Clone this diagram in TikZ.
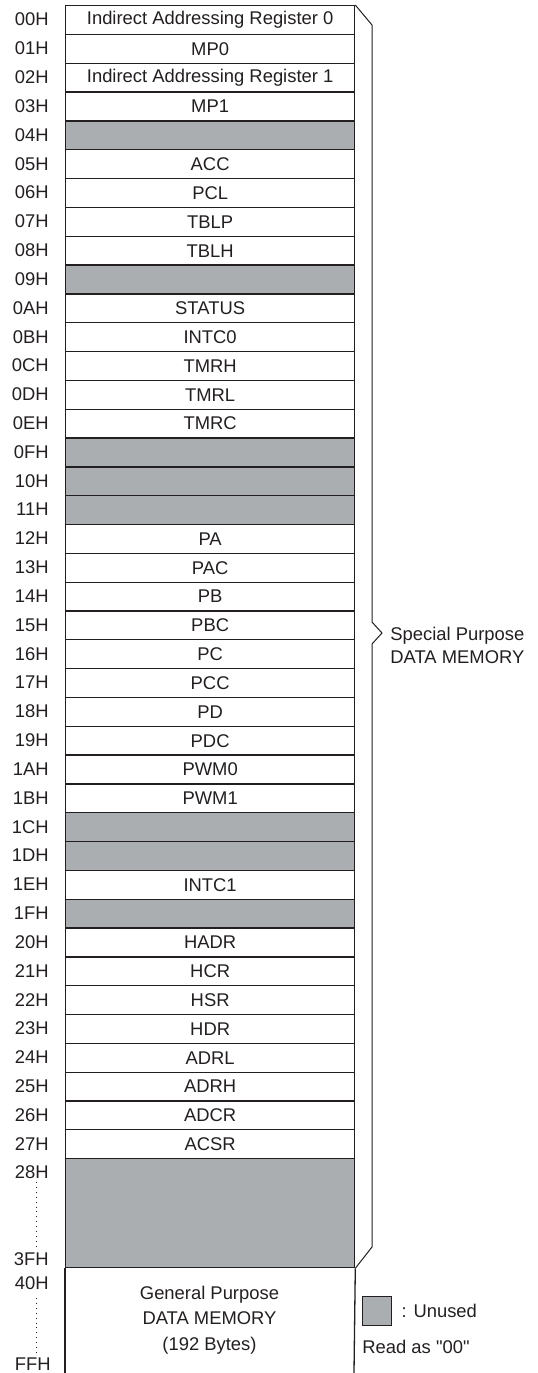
\documentclass[tikz,border=0pt]{standalone}
\usepackage{fontspec}
\setmainfont{Liberation Sans}[Ligatures=TeXOff]
\usetikzlibrary{positioning}
\definecolor{unusedgray}{RGB}{171,174,177}
\definecolor{ink}{RGB}{35,31,32}

\begin{document}
\begin{tikzpicture}[x=0.5pt, y=-0.5pt,
  every node/.style={font=\fontsize{9.2}{11.5}\selectfont, text=ink},
  reg/.style={draw=ink, line width=0.65pt, minimum width=144.5pt, minimum height=14.41pt, inner sep=0pt, anchor=north west},
  addr/.style={inner sep=0pt, anchor=east},
  txt/.style={inner sep=0pt, anchor=west, align=left},
  dots/.style={ink, dotted, line width=0.45pt},
  brace/.style={ink, line width=0.5pt}
]
  \useasboundingbox (0,0) rectangle (537,1373);

  %% One row per register: address / name / fill
  \foreach \a/\lab/\fc [count=\i from 0] in {
      00H/Indirect Addressing Register 0/white, 01H/MP0/white,
      02H/Indirect Addressing Register 1/white, 03H/MP1/white,
      04H//unusedgray, 05H/ACC/white, 06H/PCL/white, 07H/TBLP/white,
      08H/TBLH/white, 09H//unusedgray, 0AH/STATUS/white, 0BH/INTC0/white,
      0CH/TMRH/white, 0DH/TMRL/white, 0EH/TMRC/white, 0FH//unusedgray,
      10H//unusedgray, 11H//unusedgray, 12H/PA/white, 13H/PAC/white,
      14H/PB/white, 15H/PBC/white, 16H/PC/white, 17H/PCC/white,
      18H/PD/white, 19H/PDC/white, 1AH/PWM0/white, 1BH/PWM1/white,
      1CH//unusedgray, 1DH//unusedgray, 1EH/INTC1/white, 1FH//unusedgray,
      20H/HADR/white, 21H/HCR/white, 22H/HSR/white, 23H/HDR/white,
      24H/ADRL/white, 25H/ADRH/white, 26H/ADCR/white, 27H/ACSR/white}{
    \node[reg, fill=\fc] (r\i) at (65,{5+28.825*\i}) {\lab};
    \node[addr] (a\i) at (49,{19.6+28.825*\i}) {\a};
  }

  %% 28H..3FH unused, then the general purpose area (open at the bottom)
  \node[reg, fill=unusedgray, minimum height=54.5pt] (r40) at (65,1158) {};
  \coordinate (gpl) at (65,1373);
  \coordinate (gpr) at (354,1373);
  \draw[ink, line width=0.65pt] (r40.south west) -- (gpl);
  \draw[ink, line width=0.65pt] (r40.south east) -- (gpr);
  \node[align=center, font=\fontsize{9.2}{12.7}\selectfont] (gp) at (209.5,1320) {General Purpose\\DATA MEMORY\\(192 Bytes)};

  \node[addr] (a40) at (49,1172) {28H};
  \node[addr] (a41) at (49,1259) {3FH};
  \node[addr] (a42) at (49,1283) {40H};
  \node[addr] (a43) at (51,1364) {FFH};
  \coordinate (d1) at (36,1182);
  \coordinate (d2) at (36,1250);
  \coordinate (d3) at (36,1298);
  \coordinate (d4) at (36,1355);
  \draw[dots] (d1) -- (d2);
  \draw[dots] (d3) -- (d4);

  %% brace for the special purpose registers
  \draw[brace] (r0.north east) -- (372,25) -- (372,622) -- (382,633)
    -- (372,644) -- (372,1247) -- (r40.south east);
  \node[txt] (spec) at (390,645) {Special Purpose\\DATA MEMORY};

  %% legend
  \node[draw=ink, line width=0.6pt, fill=unusedgray, minimum size=14.5pt, inner sep=0pt, anchor=north west] (key) at (362,1296) {};
  \node[txt, right=4.5pt of key] (keytxt) {: Unused};
  \node[txt] (read) at (362,1347) {Read as "00"};
\end{tikzpicture}
\end{document}
